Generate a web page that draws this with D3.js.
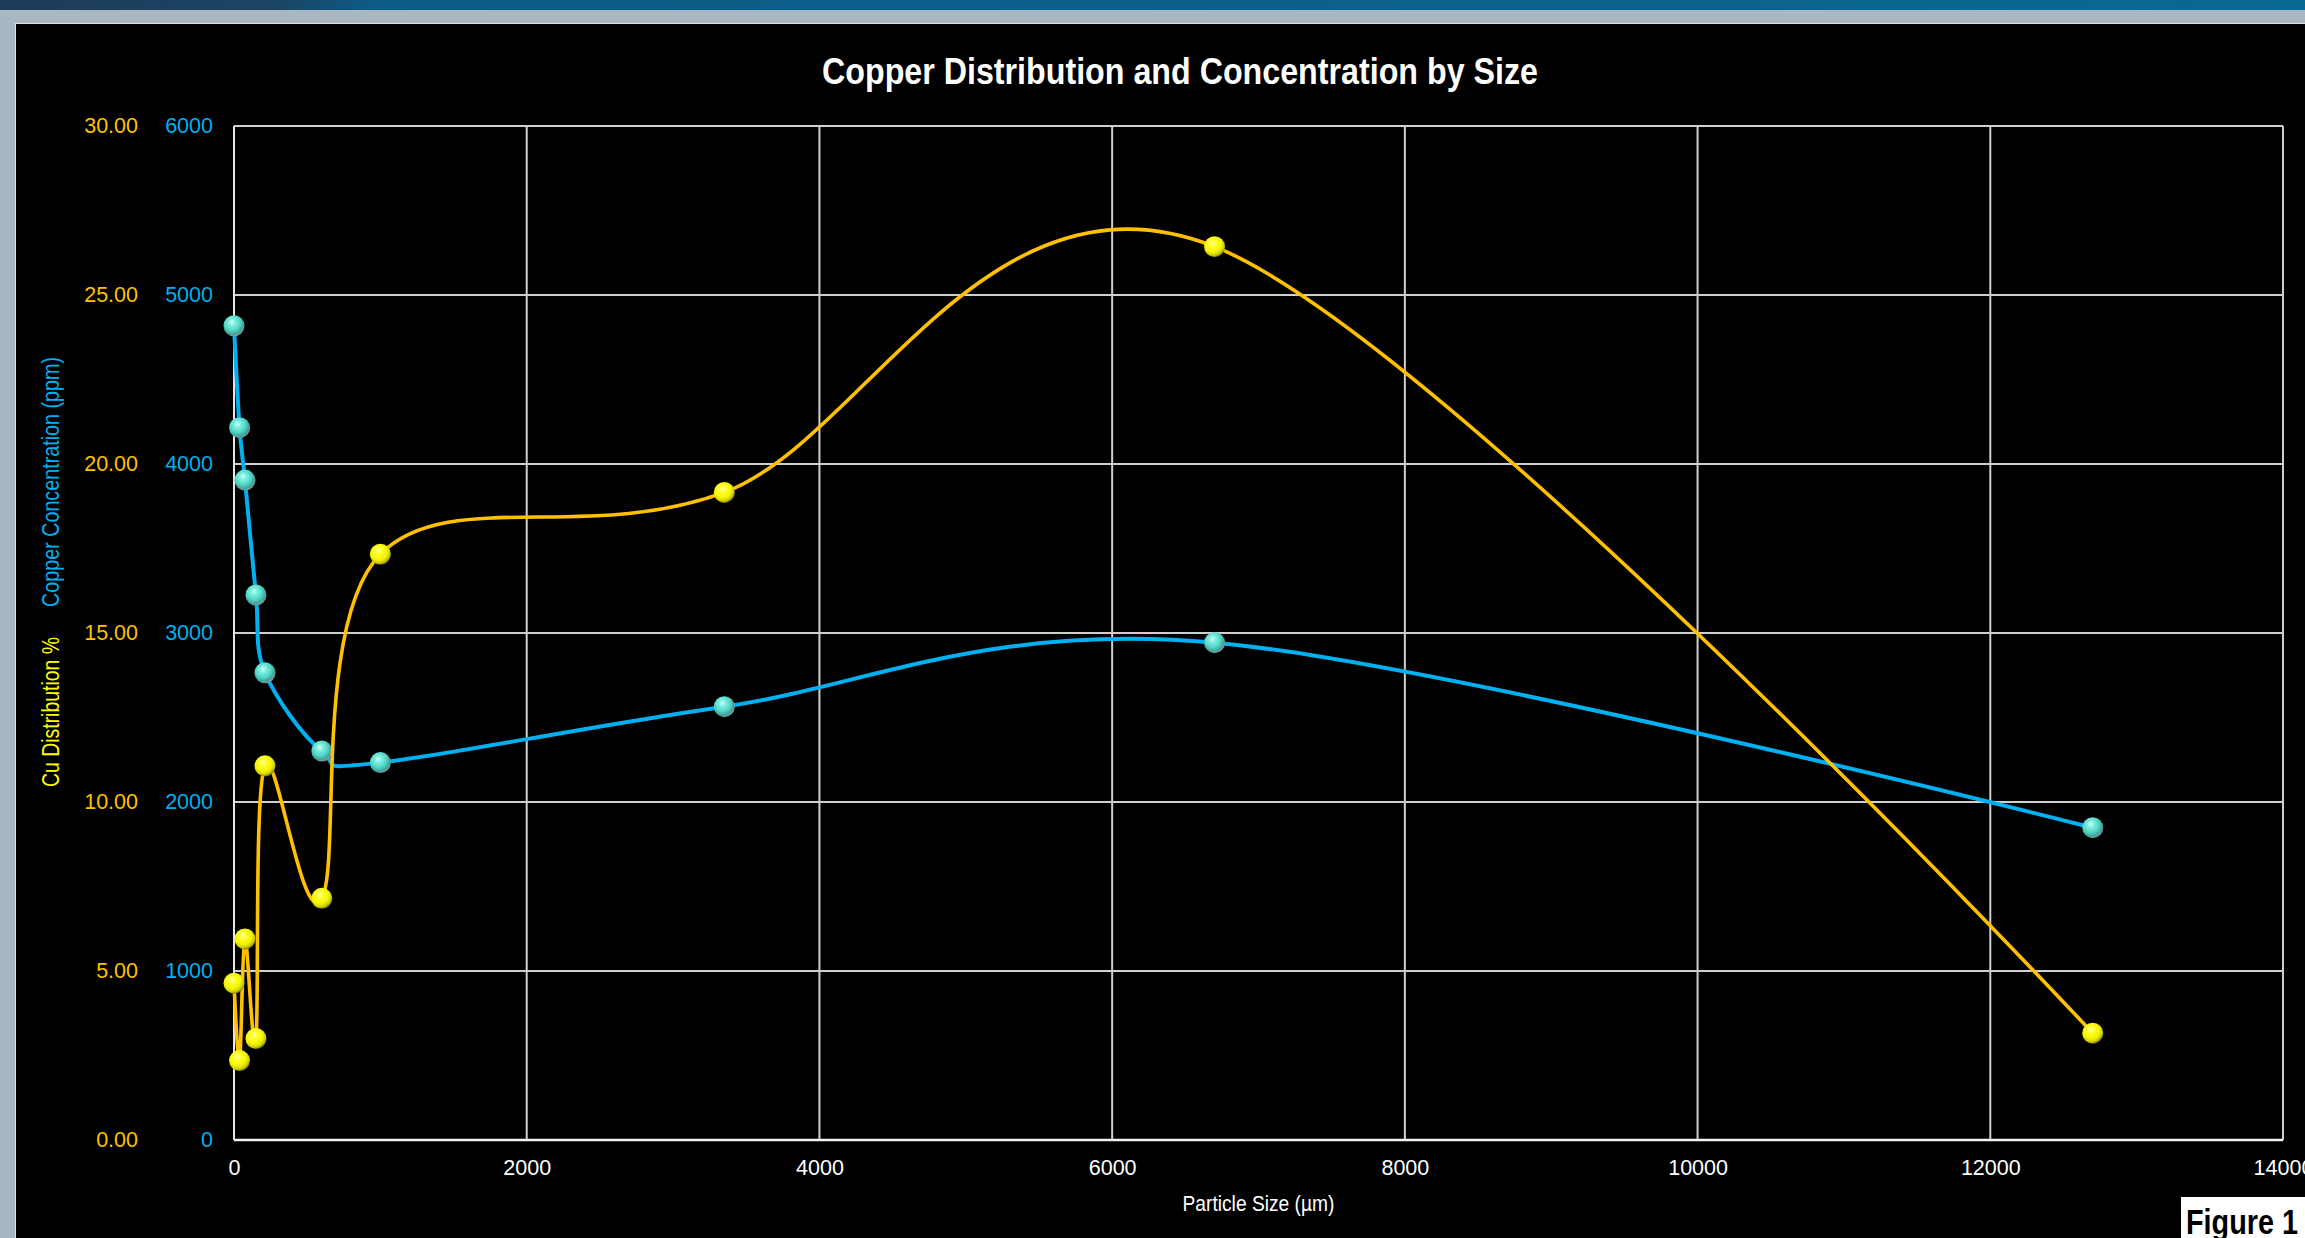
<!DOCTYPE html>
<html>
<head>
<meta charset="utf-8">
<script src="https://cdn.jsdelivr.net/npm/d3@7"></script>
<style>
  html, body { margin: 0; padding: 0; background: #000; overflow: hidden; }
  svg { display: block; }
</style>
</head>
<body>
<svg id="chart" width="2305" height="1238"></svg>
<script>
// Sieve fractions (particle size, µm)
const particleSize = [0, 38, 75, 150, 212, 600, 1000, 3350, 6700, 12700];
// Copper concentration per fraction (ppm)
const copperPpm = [4818, 4215, 3905, 3225, 2765, 2302, 2233, 2564, 2943, 1848];
// Share of total copper per fraction (%)
const cuDistribution = [4.64, 2.35, 5.95, 3.00, 11.07, 7.15, 17.33, 19.16, 26.43, 3.16];

// Axis ticks
const xTicks = [0, 2000, 4000, 6000, 8000, 10000, 12000, 14000];
const pctTicks = [0, 5, 10, 15, 20, 25, 30];
const ppmTicks = [0, 1000, 2000, 3000, 4000, 5000, 6000];

const title = "Copper Distribution and Concentration by Size";
const xTitle = "Particle Size (µm)";
const pctTitle = "Cu Distribution %";
const ppmTitle = "Copper Concentration (ppm)";
const figureTag = "Figure 1";

const W = 2305, H = 1238;
const plot = { left: 234, right: 2283, top: 126, bottom: 1140 };

const COL_PPM = "#00B0F0";
const COL_PCT = "#FFC000";
const COL_PCT_TITLE = "#FFFF00";
const GRID = "#cfcfcf";

const svg = d3.select("#chart");
const defs = svg.append("defs");

// Window frame around the chart panel
const band = defs.append("linearGradient").attr("id", "band").attr("x1", 0).attr("x2", 1);
band.append("stop").attr("offset", "0%").attr("stop-color", "#1d3a58");
band.append("stop").attr("offset", "12%").attr("stop-color", "#1b4565");
band.append("stop").attr("offset", "16%").attr("stop-color", "#0d5a84");
band.append("stop").attr("offset", "100%").attr("stop-color", "#0a6894");

svg.append("rect").attr("x", 0).attr("y", 0).attr("width", W).attr("height", H).attr("fill", "#a9b7c3");
svg.append("rect").attr("x", 0).attr("y", 0).attr("width", W).attr("height", 10).attr("fill", "url(#band)");
svg.append("rect").attr("x", 15).attr("y", 23).attr("width", W - 15).attr("height", H - 23).attr("fill", "#dde3e8");
svg.append("rect").attr("x", 16).attr("y", 24).attr("width", W - 16).attr("height", H - 24).attr("fill", "#000");

// Sphere-like marker fills
function sphere(id, stops) {
  const g = defs.append("radialGradient").attr("id", id)
    .attr("cx", "42%").attr("cy", "38%").attr("r", "62%").attr("fx", "40%").attr("fy", "32%");
  stops.forEach(([o, c]) => g.append("stop").attr("offset", o).attr("stop-color", c));
}
sphere("ballBlue", [["0%", "#d8fff9"], ["25%", "#7eefe0"], ["60%", "#52d6c6"], ["85%", "#3fa59b"], ["100%", "#7c9896"]]);
sphere("ballYellow", [["0%", "#ffffb8"], ["25%", "#ffff30"], ["65%", "#f4f400"], ["88%", "#c8c800"], ["100%", "#7d7a00"]]);

// Scales
const x = d3.scaleLinear().domain([0, 14000]).range([plot.left, plot.right]);
const yPct = d3.scaleLinear().domain([0, 30]).range([plot.bottom, plot.top]);
const yPpm = d3.scaleLinear().domain([0, 6000]).range([plot.bottom, plot.top]);

// Gridlines
const grid = svg.append("g");
grid.selectAll("line.h").data(ppmTicks).join("line")
  .attr("x1", plot.left).attr("x2", plot.right)
  .attr("y1", d => yPpm(d)).attr("y2", d => yPpm(d))
  .attr("stroke", GRID).attr("stroke-width", 2);
grid.selectAll("line.v").data(xTicks).join("line")
  .attr("x1", d => x(d)).attr("x2", d => x(d))
  .attr("y1", plot.top).attr("y2", plot.bottom)
  .attr("stroke", GRID).attr("stroke-width", 2);
// Axis lines
svg.append("line").attr("x1", plot.left).attr("x2", plot.right).attr("y1", plot.bottom).attr("y2", plot.bottom)
  .attr("stroke", "#f2f2f2").attr("stroke-width", 2.5);
svg.append("line").attr("x1", plot.left).attr("x2", plot.left).attr("y1", plot.top).attr("y2", plot.bottom)
  .attr("stroke", "#e6e6e6").attr("stroke-width", 2);

// Axes
function styleAxis(g, color) {
  g.select(".domain").remove();
  g.selectAll(".tick line").remove();
  g.selectAll("text").attr("fill", color)
    .style("font-family", "'Liberation Sans', Arial, sans-serif").style("font-size", "21.5px");
}
svg.append("g").attr("transform", "translate(140,0)")
  .call(d3.axisLeft(yPct).tickValues(pctTicks).tickFormat(d3.format(".2f")).tickSize(0).tickPadding(2))
  .call(g => styleAxis(g, COL_PCT));
svg.append("g").attr("transform", "translate(215,0)")
  .call(d3.axisLeft(yPpm).tickValues(ppmTicks).tickFormat(d3.format("d")).tickSize(0).tickPadding(2))
  .call(g => styleAxis(g, COL_PPM));
svg.append("g").attr("transform", `translate(0,${plot.bottom})`)
  .call(d3.axisBottom(x).tickValues(xTicks).tickFormat(d3.format("d")).tickSize(0).tickPadding(20))
  .call(g => styleAxis(g, "#ffffff"));

// Titles (condensed lettering is obtained by fitting each text to its width)
const sans = "'Liberation Sans', Arial, sans-serif";
function fitted(sel, len) {
  return sel.attr("textLength", len).attr("lengthAdjust", "spacingAndGlyphs");
}
fitted(svg.append("text").attr("x", 1180).attr("y", 84).attr("text-anchor", "middle")
  .attr("fill", "#fff").style("font-family", sans).style("font-weight", "bold").style("font-size", "36px"), 716)
  .text(title);
fitted(svg.append("text").attr("x", (plot.left + plot.right) / 2).attr("y", 1211).attr("text-anchor", "middle")
  .attr("fill", "#fff").style("font-family", sans).style("font-size", "22px"), 152)
  .text(xTitle);
fitted(svg.append("text").attr("transform", "translate(59,712) rotate(-90)").attr("text-anchor", "middle")
  .attr("fill", COL_PCT_TITLE).style("font-family", sans).style("font-size", "23px"), 150)
  .text(pctTitle);
fitted(svg.append("text").attr("transform", "translate(59,482) rotate(-90)").attr("text-anchor", "middle")
  .attr("fill", COL_PPM).style("font-family", sans).style("font-size", "23px"), 250)
  .text(ppmTitle);

// Series (smoothed lines with sphere markers)
const ppmPts = particleSize.map((s, i) => [s, copperPpm[i]]);
const pctPts = particleSize.map((s, i) => [s, cuDistribution[i]]);

const ppmLine = d3.line().x(d => x(d[0])).y(d => yPpm(d[1])).curve(d3.curveCardinal.tension(0));
const pctLine = d3.line().x(d => x(d[0])).y(d => yPct(d[1])).curve(d3.curveCardinal.tension(0));

svg.append("path").datum(ppmPts).attr("d", ppmLine)
  .attr("fill", "none").attr("stroke", COL_PPM).attr("stroke-width", 4).attr("stroke-linejoin", "round");
svg.append("g").selectAll("circle").data(ppmPts).join("circle")
  .attr("cx", d => x(d[0])).attr("cy", d => yPpm(d[1])).attr("r", 10.5)
  .attr("fill", "url(#ballBlue)");

svg.append("path").datum(pctPts).attr("d", pctLine)
  .attr("fill", "none").attr("stroke", COL_PCT).attr("stroke-width", 3.6).attr("stroke-linejoin", "round");
svg.append("g").selectAll("circle").data(pctPts).join("circle")
  .attr("cx", d => x(d[0])).attr("cy", d => yPct(d[1])).attr("r", 10.5)
  .attr("fill", "url(#ballYellow)");

// Figure tag in the lower-right corner
svg.append("rect").attr("x", 2181).attr("y", 1197).attr("width", W - 2181).attr("height", H - 1197)
  .attr("fill", "#fff");
fitted(svg.append("text").attr("x", 2186).attr("y", 1234)
  .attr("fill", "#000").style("font-family", sans).style("font-weight", "bold").style("font-size", "35px"), 112)
  .text(figureTag);
</script>
</body>
</html>
